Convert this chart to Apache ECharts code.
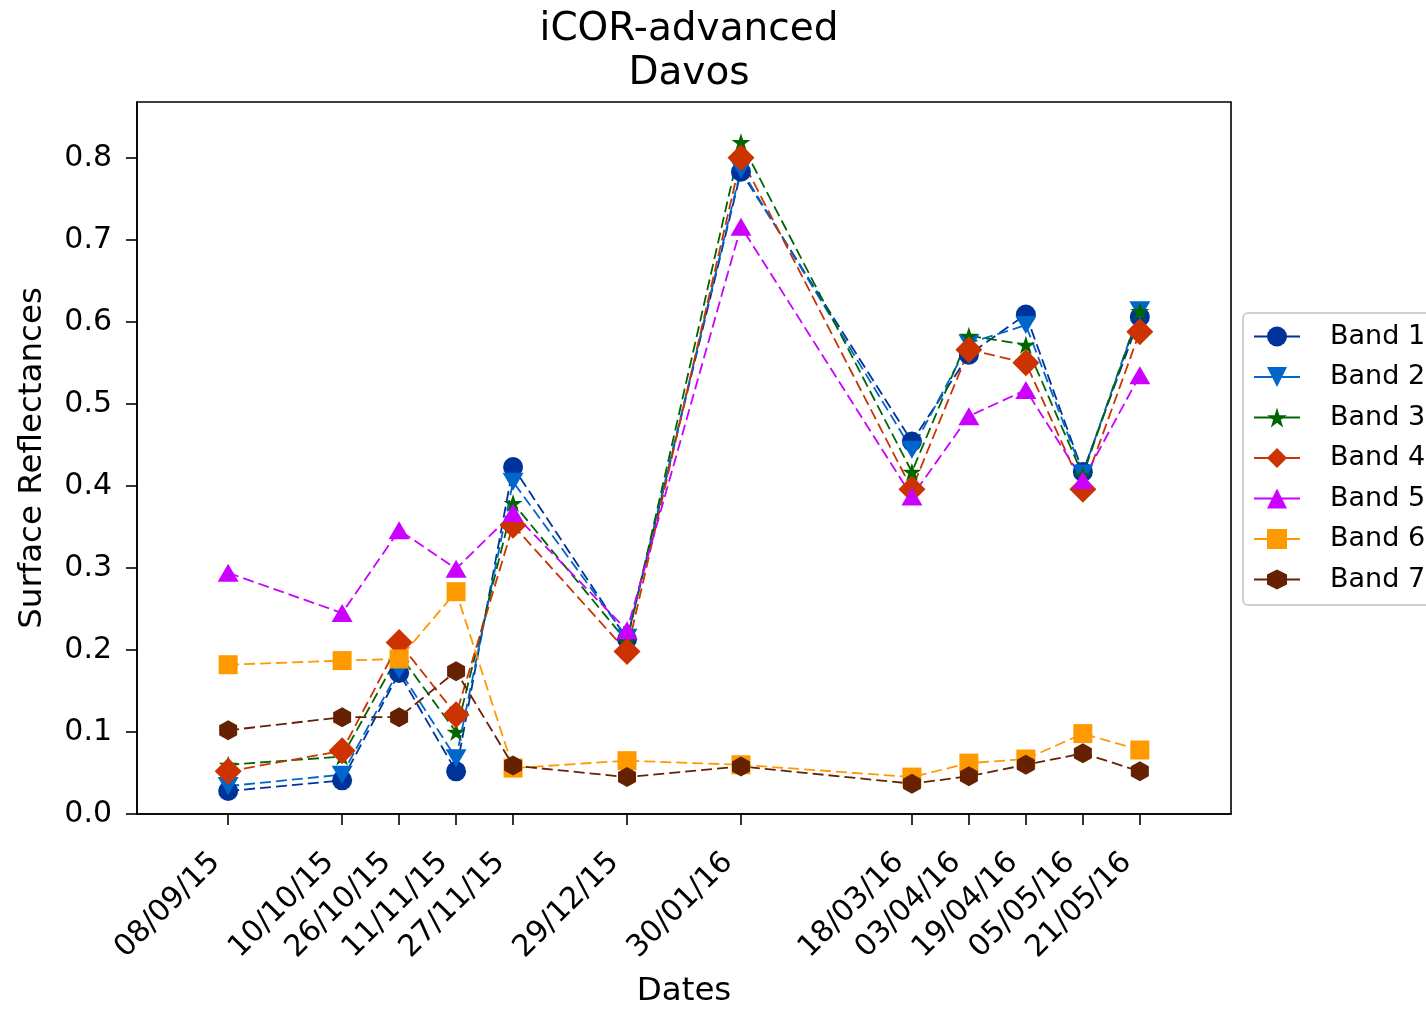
<!DOCTYPE html>
<html>
<head>
<meta charset="utf-8">
<script src="https://cdn.jsdelivr.net/npm/echarts@6/dist/echarts.min.js"></script>
<style>html,body{margin:0;padding:0;background:#fff}#c{width:1426px;height:1009px}</style>
</head>
<body>
<div id="c"></div>
<script>
const dates = ['08/09/15','10/10/15','26/10/15','11/11/15','27/11/15','29/12/15','30/01/16','18/03/16','03/04/16','19/04/16','05/05/16','21/05/16'];
const bandNames = ['Band 1','Band 2','Band 3','Band 4','Band 5','Band 6','Band 7'];
const band1 = [0.028,0.041,0.172,0.052,0.423,0.213,0.783,0.454,0.560,0.609,0.417,0.606];
const band2 = [0.034,0.048,0.176,0.068,0.405,0.215,0.786,0.444,0.574,0.596,0.415,0.614];
const band3 = [0.060,0.070,0.195,0.100,0.379,0.210,0.819,0.417,0.583,0.572,0.413,0.613];
const band4 = [0.052,0.077,0.209,0.121,0.352,0.198,0.800,0.396,0.566,0.550,0.396,0.588];
const band5 = [0.294,0.245,0.346,0.299,0.367,0.224,0.716,0.387,0.485,0.517,0.407,0.535];
const band6 = [0.182,0.187,0.189,0.271,0.056,0.065,0.060,0.045,0.062,0.067,0.098,0.078];
const band7 = [0.102,0.118,0.118,0.174,0.059,0.045,0.058,0.037,0.046,0.060,0.074,0.052];
const yTicks = [0,0.1,0.2,0.3,0.4,0.5,0.6,0.7,0.8];
const titleText = 'iCOR-advanced\nDavos';

const bands = [band1,band2,band3,band4,band5,band6,band7];
const colors = ['#003399','#0066CC','#006600','#CC3300','#CC00FF','#FF9900','#662200'];
const STAR = 'path://M0,-1L0.2245,-0.309L0.951,-0.309L0.363,0.118L0.588,0.809L0,0.382L-0.588,0.809L-0.363,0.118L-0.951,-0.309L-0.2245,-0.309Z';
const HEX = 'path://M0,-1L0.866,-0.5L0.866,0.5L0,1L-0.866,0.5L-0.866,-0.5Z';
const symbols = [
  {symbol:'circle', size:20, rotate:0},
  {symbol:'triangle', size:[21,18], rotate:180},
  {symbol:STAR, size:[19,18], rotate:0},
  {symbol:'diamond', size:[27,27], rotate:0},
  {symbol:'triangle', size:[21,18], rotate:0},
  {symbol:'rect', size:19, rotate:0},
  {symbol:HEX, size:[18,20], rotate:0}
];

function parseD(s){ const p=s.split('/'); return Date.UTC(2000+ +p[2], +p[1]-1, +p[0]); }
const xs = dates.map(parseD);
const span = xs[xs.length-1]-xs[0];
const xMin = xs[0]-0.1*span, xMax = xs[xs.length-1]+0.1*span;
const labelOf = {}; xs.forEach((t,i)=>labelOf[t]=dates[i]);

const FONT = 'DejaVu Sans';
const chart = echarts.init(document.getElementById('c'), null, {renderer:'canvas'});
chart.setOption({
  animation:false,
  backgroundColor:'#fff',
  title:{text:titleText,left:684,top:3,textAlign:'center',
    textStyle:{fontFamily:FONT,fontSize:39,fontWeight:'normal',color:'#000',lineHeight:44}},
  grid:{left:137,right:195,top:102,bottom:195,show:true,borderColor:'#000',borderWidth:1.6,backgroundColor:'transparent',
    containLabel:false,outerBoundsMode:'none'},
  legend:{orient:'vertical',left:1243,top:313,padding:[10,60,12,10],itemGap:13.5,itemWidth:46,itemHeight:25,
    borderColor:'#d0d0d0',borderWidth:2,borderRadius:5,backgroundColor:'#fff',
    lineStyle:{type:'solid'},
    textStyle:{fontFamily:FONT,fontSize:27,lineHeight:25,color:'#000',padding:[0,0,0,25]},
    data:bandNames},
  xAxis:{type:'value',min:xMin,max:xMax,
    name:'Dates',nameLocation:'middle',nameGap:161,nameTextStyle:{fontFamily:FONT,fontSize:32.5,color:'#000'},
    axisLine:{show:true,lineStyle:{color:'#000',width:1.6}},
    axisTick:{show:true,inside:false,length:11,lineStyle:{color:'#000',width:1.6},customValues:xs},
    axisLabel:{rotate:45,fontFamily:FONT,fontSize:30,color:'#000',margin:31,padding:[0,18,0,0],customValues:xs,
      formatter:v=>labelOf[v]||''},
    splitLine:{show:false}},
  yAxis:{type:'value',min:0,max:0.868,
    name:'Surface Reflectances',nameLocation:'middle',nameGap:88,nameRotate:90,
    nameTextStyle:{fontFamily:FONT,fontSize:32.5,color:'#000'},
    axisLine:{show:true,lineStyle:{color:'#000',width:1.6}},
    axisTick:{show:true,inside:false,length:11,lineStyle:{color:'#000',width:1.6},customValues:yTicks},
    axisLabel:{fontFamily:FONT,fontSize:30,color:'#000',margin:25,customValues:yTicks,
      formatter:v=>v.toFixed(1)},
    splitLine:{show:false}},
  series:bands.map((b,i)=>({
    name:bandNames[i],type:'line',
    data:b.map((v,j)=>[xs[j],v]),
    symbol:symbols[i].symbol,symbolSize:symbols[i].size,symbolRotate:symbols[i].rotate,
    showAllSymbol:true,
    itemStyle:{color:colors[i],borderWidth:0,opacity:1},
    lineStyle:{color:colors[i],width:1.8,type:[11,5]},
    emphasis:{disabled:true}
  }))
});
</script>
</body>
</html>
